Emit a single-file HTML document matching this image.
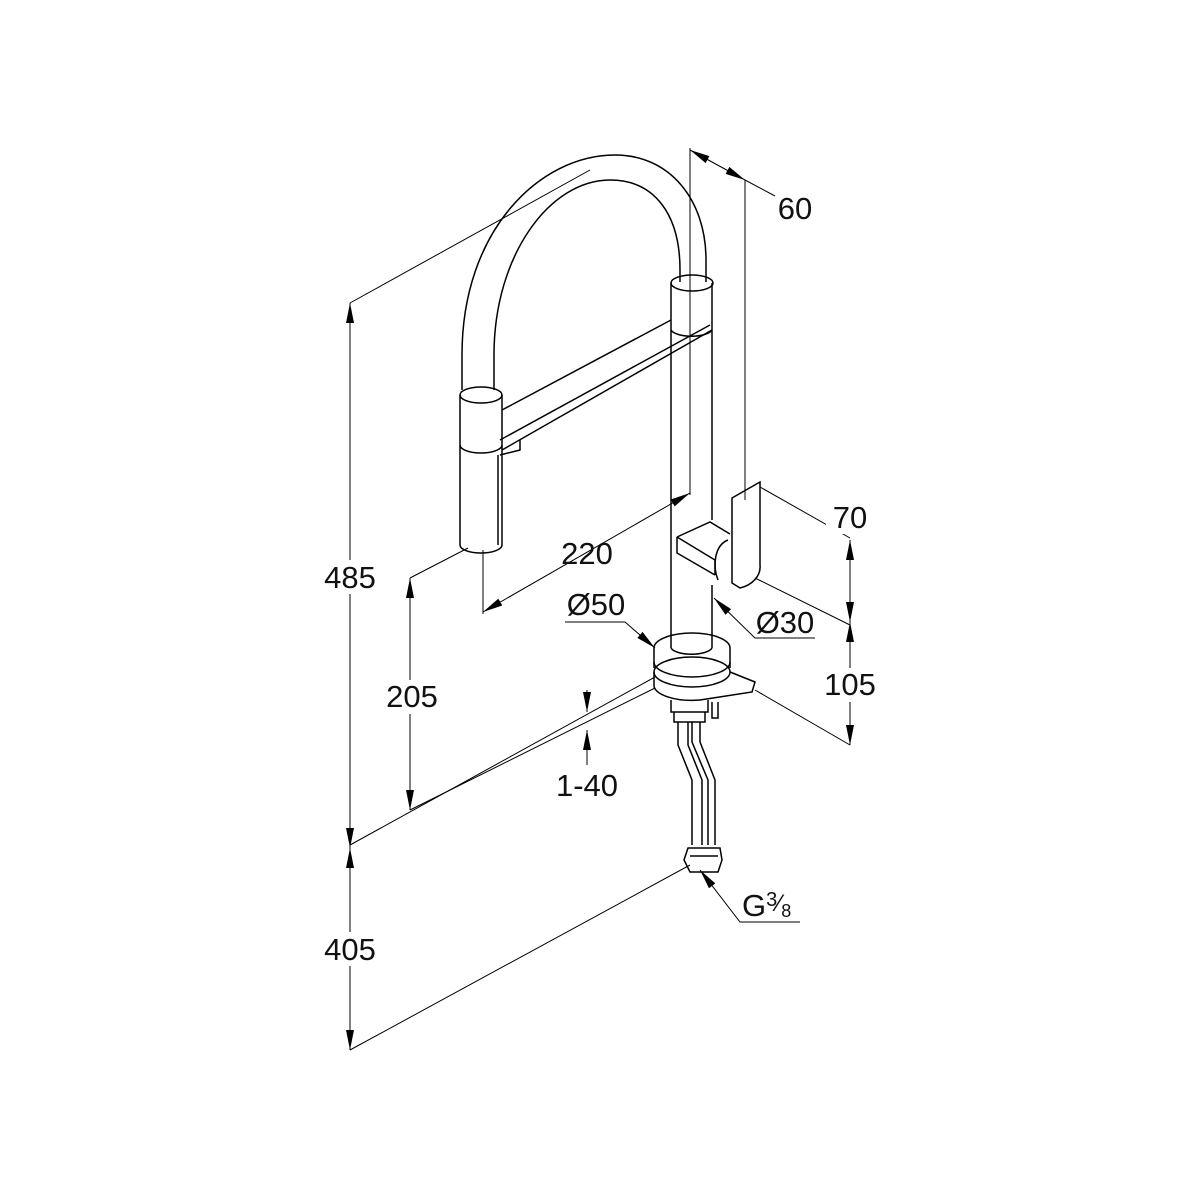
<!DOCTYPE html>
<html><head><style>
html,body{margin:0;padding:0;background:#fff;}
svg{display:block;}
text{font-family:"Liberation Sans",Arial,sans-serif;font-size:31px;fill:#111;}
</style></head><body>
<svg width="1200" height="1200" viewBox="0 0 1200 1200" xmlns="http://www.w3.org/2000/svg">
<defs>
<marker id="a" viewBox="0 0 20 8" refX="20" refY="4" markerWidth="20" markerHeight="8" markerUnits="userSpaceOnUse" orient="auto-start-reverse">
<path d="M0,0 L20,4 L0,8 z" fill="#000"/></marker>
</defs>
<g fill="none" stroke="#000" stroke-width="1">
<line x1="350" y1="303" x2="590" y2="170"/>
<line x1="350" y1="303" x2="350" y2="848" marker-start="url(#a)" marker-end="url(#a)"/>
<line x1="350" y1="848" x2="350" y2="1050" marker-start="url(#a)" marker-end="url(#a)"/>
<line x1="350" y1="845" x2="655" y2="677"/>
<line x1="350" y1="1050" x2="690" y2="865"/>
<line x1="410" y1="578" x2="468" y2="548"/>
<line x1="410" y1="578" x2="410" y2="810" marker-start="url(#a)" marker-end="url(#a)"/>
<line x1="410" y1="810" x2="655" y2="688"/>
<line x1="587" y1="690" x2="587" y2="712" marker-end="url(#a)"/>
<line x1="587" y1="765" x2="587" y2="730" marker-end="url(#a)"/>
<line x1="483" y1="550" x2="483" y2="614"/>
<line x1="483" y1="612" x2="690" y2="493" marker-start="url(#a)" marker-end="url(#a)"/>
<line x1="690" y1="148" x2="690" y2="495"/>
<line x1="690" y1="150" x2="745" y2="180" marker-start="url(#a)" marker-end="url(#a)"/>
<line x1="745" y1="180" x2="775" y2="196"/>
<line x1="745" y1="180" x2="745" y2="500"/>
<line x1="760" y1="487" x2="850" y2="538"/>
<line x1="850" y1="540" x2="850" y2="622" marker-start="url(#a)" marker-end="url(#a)"/>
<line x1="850" y1="622" x2="850" y2="745" marker-start="url(#a)" marker-end="url(#a)"/>
<line x1="755" y1="578" x2="850" y2="625"/>
<line x1="755" y1="690" x2="850" y2="745"/>
<polyline points="565,622 625,622 655,648" marker-end="url(#a)"/>
<polyline points="815,638 755,638 714,598" marker-end="url(#a)"/>
<polyline points="800,922 740,922 700,870" marker-end="url(#a)"/>
</g>
<g fill="none" stroke="#000" stroke-width="1.5">
<path d="M462,390 L462,355 C462,230 540,155 615,155 C670,155 706,200 706,260 L706,282"/>
<path d="M494,390 L494,355 C494,255 550,180 610,180 C655,180 680,215 680,270 L680,282"/>
<path d="M460,395 L460,545 A21,8 0 0 0 502,545 L502,395"/>
<ellipse cx="481" cy="395" rx="21" ry="8"/>
<path d="M460,445 A21,8 0 0 0 502,445"/>
<path d="M498,455 L498,545"/>
<ellipse cx="692" cy="283" rx="21" ry="8"/>
<path d="M671,283 L671,330 M712,283 L712,330"/>
<path d="M671,330 A21,8 0 0 0 712,330"/>
<path d="M502,410 L671,320 M502,450 L712,330 M500,440 L710,325"/>
<path d="M500,455 L520,450 L520,440"/>
<path d="M671,330 L671,648 M712,330 L712,520 M712,585 L712,648"/>
<path d="M671,648 A21,8 0 0 0 712,648"/>
<path d="M732,498 L760,482 L760,565 A28,22 0 0 1 740,588 L732,583 Z"/>
<path d="M677,537 L710,522 L730,534 M677,537 L677,553 L715,575 M677,537 L715,560 L715,575"/>
<path d="M728,540 C715,545 712,565 718,580"/>
<path d="M654,648 A38,15 0 0 1 730,648"/>
<path d="M654,648 L654,668 M730,648 L730,668"/>
<path d="M654,662 A38,15 0 0 0 730,662"/>
<ellipse cx="692" cy="672" rx="38" ry="15"/>
<path d="M730,672 L755,682 L752,692 L700,700"/>
<path d="M654,672 L654,685 A38,15 0 0 0 700,700"/>
<path d="M671,700 L671,712 L708,712 L708,700"/>
<path d="M674,712 L674,722 L705,722 L705,712"/>
<path d="M712,702 L712,718 L718,718 L718,702"/>
<path d="M678,722 L678,745 L692,780 L692,845 M688,722 L688,745 L702,780 L702,845"/>
<path d="M692,722 L692,742 L708,780 L708,845 M700,722 L700,742 L715,780 L715,845"/>
<path d="M688,848 L720,848 L722,860 L718,872 L690,872 L684,860 Z"/>
<path d="M690,856 L718,856"/>
</g>
<g>
<rect x="318" y="560" width="64" height="34" fill="#fff"/>
<text x="350" y="588" text-anchor="middle">485</text>
<rect x="318" y="932" width="64" height="34" fill="#fff"/>
<text x="350" y="960" text-anchor="middle">405</text>
<rect x="380" y="680" width="64" height="34" fill="#fff"/>
<text x="412" y="707" text-anchor="middle">205</text>
<rect x="818" y="668" width="64" height="34" fill="#fff"/>
<text x="850" y="695" text-anchor="middle">105</text>
<rect x="826" y="500" width="48" height="34" fill="#fff"/>
<text x="850" y="528" text-anchor="middle">70</text>
<text x="587" y="564" text-anchor="middle">220</text>
<text x="795" y="219" text-anchor="middle">60</text>
<text x="587" y="796" text-anchor="middle">1-40</text>
<text x="596" y="615" text-anchor="middle">Ø50</text>
<text x="785" y="633" text-anchor="middle">Ø30</text>
<text x="742" y="916">G<tspan font-size="20" dy="-10">3</tspan><tspan font-size="24" dy="5">⁄</tspan><tspan font-size="18" dy="6">8</tspan></text>
</g>
</svg>
</body></html>
